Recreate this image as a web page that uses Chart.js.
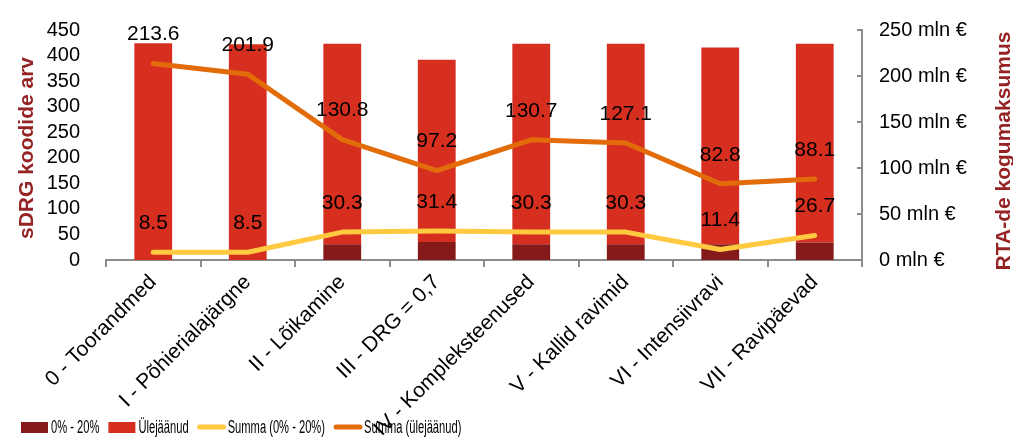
<!DOCTYPE html>
<html>
<head>
<meta charset="utf-8">
<script src="https://cdn.jsdelivr.net/npm/chart.js@4.4.1/dist/chart.umd.min.js"></script>
<style>
  body { margin: 0; background: #fff; }
  #wrap { width: 1013px; height: 438px; position: relative; }
</style>
</head>
<body>
<div id="wrap"><canvas id="chart"></canvas></div>
<script>
var categories = [
  '0 - Toorandmed',
  'I - Põhierialajärgne',
  'II - Lõikamine',
  'III - DRG = 0,7',
  'IV - Kompleksteenused',
  'V - Kallid ravimid',
  'VI - Intensiivravi',
  'VII - Ravipäevad'
];

// sDRG koodide arv
var count0to20 = [0, 0, 31, 35, 31, 31, 31, 34];
var countRest = [424, 422, 392, 357, 392, 392, 385, 389];

// RTA-de kogumaksumus, mln €
var sum0to20 = [8.5, 8.5, 30.3, 31.4, 30.3, 30.3, 11.4, 26.7];
var sumRest = [213.6, 201.9, 130.8, 97.2, 130.7, 127.1, 82.8, 88.1];

var leftTicks = [0, 450, 50];
var rightTicks = [0, 250, 50];

const FONT = '"Liberation Sans", Arial, sans-serif';
const GRAY = '#8c8c8c';
const TITLE_RED = '#952323';

Chart.defaults.font.family = FONT;
Chart.defaults.color = '#000';

// values above the line points, axis titles, small inside ticks, legend
const extras = {
  id: 'extras',
  afterDatasetsDraw(chart) {
    const ctx = chart.ctx;
    ctx.save();
    ctx.font = '21px ' + FONT;
    ctx.fillStyle = '#000';
    ctx.textAlign = 'center';
    ctx.textBaseline = 'middle';
    chart.data.datasets.forEach((ds, i) => {
      if (ds.type !== 'line') return;
      chart.getDatasetMeta(i).data.forEach((p, j) => {
        ctx.fillText(ds.data[j].toFixed(1), p.x, p.y - 29);
      });
    });
    ctx.restore();
  },
  afterDraw(chart) {
    const ctx = chart.ctx;
    const area = chart.chartArea;
    ctx.save();

    // ticks of the right axis point into the plot
    const y1 = chart.scales.y1;
    ctx.strokeStyle = GRAY;
    ctx.lineWidth = 2;
    y1.ticks.forEach(t => {
      const y = y1.getPixelForValue(t.value);
      ctx.beginPath();
      ctx.moveTo(area.right - 5, y);
      ctx.lineTo(area.right, y);
      ctx.stroke();
    });

    // axis titles, both reading bottom to top
    ctx.font = 'bold 21px ' + FONT;
    ctx.fillStyle = TITLE_RED;
    ctx.textAlign = 'center';
    ctx.textBaseline = 'middle';
    [[27, 148, 'sDRG koodide arv'], [1004, 151, 'RTA-de kogumaksumus']].forEach(t => {
      ctx.save();
      ctx.translate(t[0], t[1]);
      ctx.rotate(-Math.PI / 2);
      ctx.fillText(t[2], 0, 0);
      ctx.restore();
    });

    // legend
    let x = 21;
    const cy = 427;
    const squeeze = 0.62;
    ctx.font = '18px ' + FONT;
    ctx.textAlign = 'left';
    chart.data.datasets.forEach(ds => {
      if (ds.type === 'line') {
        ctx.strokeStyle = ds.borderColor;
        ctx.lineWidth = 5;
        ctx.lineCap = 'round';
        ctx.beginPath();
        ctx.moveTo(x + 2, cy);
        ctx.lineTo(x + 26, cy);
        ctx.stroke();
      } else {
        ctx.fillStyle = ds.backgroundColor;
        ctx.fillRect(x, cy - 5, 27, 11);
      }
      x += 30;
      ctx.save();
      ctx.translate(x, cy);
      ctx.scale(squeeze, 1);
      ctx.fillStyle = '#000';
      ctx.fillText(ds.label, 0, 1);
      ctx.restore();
      x += ctx.measureText(ds.label).width * squeeze + 9;
    });
    ctx.restore();
  }
};

new Chart(document.getElementById('chart'), {
  type: 'bar',
  data: {
    labels: categories,
    datasets: [
      {
        label: '0% - 20%',
        data: count0to20,
        backgroundColor: '#861a1a',
        barPercentage: 0.4,
        categoryPercentage: 1,
        yAxisID: 'y',
        order: 1
      },
      {
        label: 'Ülejäänud',
        data: countRest,
        backgroundColor: '#d62e1f',
        barPercentage: 0.4,
        categoryPercentage: 1,
        yAxisID: 'y',
        order: 1
      },
      {
        type: 'line',
        label: 'Summa (0% - 20%)',
        data: sum0to20,
        borderColor: '#ffc940',
        backgroundColor: '#ffc940',
        borderWidth: 5,
        pointRadius: 0,
        tension: 0,
        borderJoinStyle: 'round',
        borderCapStyle: 'round',
        yAxisID: 'y1',
        order: 0
      },
      {
        type: 'line',
        label: 'Summa (ülejäänud)',
        data: sumRest,
        borderColor: '#e36c0a',
        backgroundColor: '#e36c0a',
        borderWidth: 5,
        pointRadius: 0,
        tension: 0,
        borderJoinStyle: 'round',
        borderCapStyle: 'round',
        yAxisID: 'y1',
        order: 0
      }
    ]
  },
  plugins: [extras],
  options: {
    responsive: true,
    maintainAspectRatio: false,
    animation: false,
    layout: { padding: { top: 20, left: 0, right: 0, bottom: 0 } },
    plugins: {
      legend: { display: false },
      tooltip: { enabled: false }
    },
    scales: {
      x: {
        stacked: true,
        grid: {
          offset: true,
          drawOnChartArea: false,
          drawTicks: true,
          tickLength: 7,
          color: GRAY,
          lineWidth: 2
        },
        border: { color: GRAY, width: 2 },
        ticks: {
          autoSkip: false,
          minRotation: 45,
          maxRotation: 45,
          padding: 3,
          color: '#000',
          font: { size: 21 }
        },
        afterFit(s) {
          s.height = 178;
          s.paddingLeft = 0;
          s.paddingRight = 0;
        }
      },
      y: {
        stacked: true,
        position: 'left',
        min: leftTicks[0],
        max: leftTicks[1],
        grid: { display: false },
        border: { display: false },
        ticks: {
          stepSize: leftTicks[2],
          autoSkip: false,
          padding: 18,
          color: '#000',
          font: { size: 20 }
        },
        afterFit(s) { s.width = 106; }
      },
      y1: {
        position: 'right',
        min: rightTicks[0],
        max: rightTicks[1],
        grid: { drawOnChartArea: false, drawTicks: false },
        border: { color: GRAY, width: 2 },
        ticks: {
          stepSize: rightTicks[2],
          autoSkip: false,
          padding: 17,
          color: '#000',
          font: { size: 20 },
          callback: v => v + ' mln €'
        },
        afterFit(s) { s.width = 151; }
      }
    }
  }
});
</script>
</body>
</html>
